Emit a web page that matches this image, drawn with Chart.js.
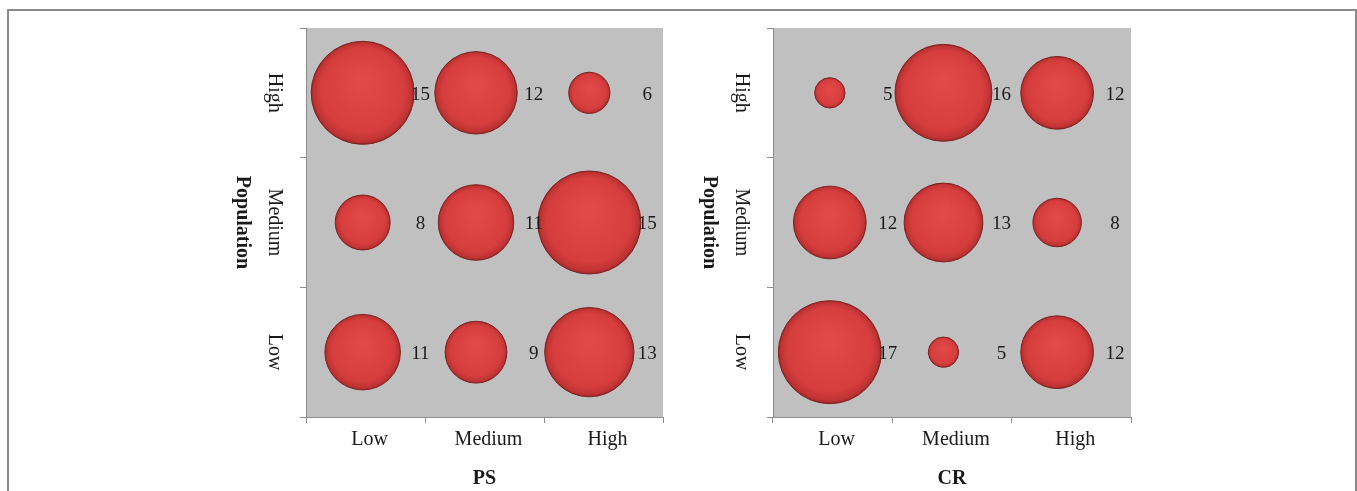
<!DOCTYPE html>
<html>
<head>
<meta charset="utf-8">
<script src="https://cdn.jsdelivr.net/npm/chart.js@4"></script>
<style>
  html, body { margin: 0; padding: 0; background: #fff; overflow: hidden; }
  #wrap { position: relative; width: 1357px; height: 491px; }
  #frame { position: absolute; left: 7px; top: 9px; width: 1350px; height: 520px;
           border: 2px solid #8a8a8a; border-bottom: none; box-sizing: border-box; }
  canvas { position: absolute; top: 0; }
  #ps-chart { left: 0; }
  #cr-chart { left: 678px; }
</style>
</head>
<body>
<div id="wrap">
  <div id="frame"></div>
  <canvas id="ps-chart" width="678" height="491"></canvas>
  <canvas id="cr-chart" width="679" height="491"></canvas>
</div>
<script>
// categories on both axes (rows listed bottom to top)
const categories = ['Low', 'Medium', 'High'];
const rowLabels = ['Low', 'Medium', 'High'];

// PS chart: one array per population row, values for PS Low / Medium / High
const psLow = [11, 9, 13];
const psMedium = [8, 11, 15];
const psHigh = [15, 12, 6];

// CR chart: one array per population row, values for CR Low / Medium / High
const crLow = [17, 5, 12];
const crMedium = [12, 13, 8];
const crHigh = [5, 16, 12];

const FONT = "'Liberation Serif', 'Times New Roman', serif";
const MAX_RADIUS = 51.5; // largest bubble in each chart, px (size = width)

function buildPoints(rows) {
    const maxVal = Math.max(...rows.flat());
    const points = [];
    rows.forEach((row, yi) => {
        row.forEach((v, xi) => {
            points.push({ x: xi, y: yi, r: v / maxVal * MAX_RADIUS, v: v });
        });
    });
    return points;
}

// slight shading so the bubbles look rounded
function bubbleFill(ctx) {
    const chart = ctx.chart;
    const raw = ctx.raw;
    if (!raw || !chart.scales.xb || !chart.scales.y) return '#d63f3f';
    const x = chart.scales.xb.getPixelForValue(raw.x);
    const y = chart.scales.y.getPixelForValue(raw.y);
    if (!Number.isFinite(x) || !Number.isFinite(y)) return '#d63f3f';
    const g = chart.ctx.createRadialGradient(x, y - raw.r * 0.25, raw.r * 0.1, x, y, raw.r);
    g.addColorStop(0, '#e24848');
    g.addColorStop(0.8, '#d63d3d');
    g.addColorStop(0.95, '#bf3333');
    g.addColorStop(1, '#9c2828');
    return g;
}

const decorPlugin = {
    id: 'decor',
    beforeDraw(chart) {
        const { ctx, chartArea: a } = chart;
        ctx.save();
        ctx.fillStyle = '#c0c0c0';
        ctx.fillRect(a.left, a.top, a.right - a.left, a.bottom - a.top);
        ctx.restore();
    },
    afterDatasetsDraw(chart) {
        const { ctx, chartArea: a } = chart;
        const xb = chart.scales.xb, y = chart.scales.y;
        ctx.save();
        ctx.fillStyle = '#1a1a1a';

        // value labels to the right of each bubble
        ctx.font = '19px ' + FONT;
        ctx.textAlign = 'center';
        ctx.textBaseline = 'middle';
        chart.data.datasets[0].data.forEach(p => {
            ctx.fillText(String(p.v), xb.getPixelForValue(p.x + 0.51), y.getPixelForValue(p.y) + 2);
        });

        // rotated row labels and axis title (read top to bottom)
        rowLabels.forEach((lab, i) => {
            ctx.save();
            ctx.translate(a.left - 32, y.getPixelForValue(i));
            ctx.rotate(Math.PI / 2);
            ctx.font = '20px ' + FONT;
            ctx.fillText(lab, 0, 0);
            ctx.restore();
        });
        ctx.save();
        ctx.translate(a.left - 64, (a.top + a.bottom) / 2);
        ctx.rotate(Math.PI / 2);
        ctx.font = 'bold 20px ' + FONT;
        ctx.fillText('Population', 0, 0);
        ctx.restore();

        ctx.restore();
    }
};

function makeChart(canvasId, rows, title, axisWidth, padRight) {
    new Chart(document.getElementById(canvasId).getContext('2d'), {
        type: 'bubble',
        data: {
            datasets: [{
                data: buildPoints(rows),
                xAxisID: 'xb',
                yAxisID: 'y',
                backgroundColor: bubbleFill,
                borderColor: '#7e2222',
                borderWidth: 1,
                hoverRadius: 0
            }]
        },
        options: {
            responsive: false,
            animation: false,
            layout: { autoPadding: false, padding: { top: 28, right: padRight, left: 0, bottom: 0 } },
            plugins: { legend: { display: false }, tooltip: { enabled: false } },
            scales: {
                x: {
                    type: 'category',
                    labels: categories,
                    position: 'bottom',
                    offset: true,
                    grid: { offset: true, drawOnChartArea: false, drawTicks: true, tickLength: 6, color: '#8c8c8c' },
                    border: { display: true, color: '#8c8c8c', width: 1 },
                    ticks: { font: { family: FONT, size: 20 }, color: '#1a1a1a', padding: 5, labelOffset: 4, maxRotation: 0 },
                    title: { display: true, text: title, font: { family: FONT, size: 20, weight: 'bold' }, color: '#1a1a1a', padding: { top: 4, bottom: 0 } },
                    afterFit(scale) { scale.height = 74; }
                },
                xb: {
                    type: 'linear',
                    display: false,
                    position: 'bottom',
                    min: -0.5,
                    max: 2.65
                },
                y: {
                    type: 'linear',
                    position: 'left',
                    min: -0.5,
                    max: 2.5,
                    afterBuildTicks(scale) {
                        scale.ticks = [-0.5, 0.5, 1.5, 2.5].map(v => ({ value: v }));
                    },
                    grid: { drawOnChartArea: false, drawTicks: true, tickLength: 6, color: '#8c8c8c' },
                    border: { display: true, color: '#8c8c8c', width: 1 },
                    ticks: { display: false },
                    afterFit(scale) { scale.width = axisWidth; }
                }
            }
        },
        plugins: [decorPlugin]
    });
}

makeChart('ps-chart', [psLow, psMedium, psHigh], 'PS', 306, 15);
makeChart('cr-chart', [crLow, crMedium, crHigh], 'CR', 95, 226);
</script>
</body>
</html>
